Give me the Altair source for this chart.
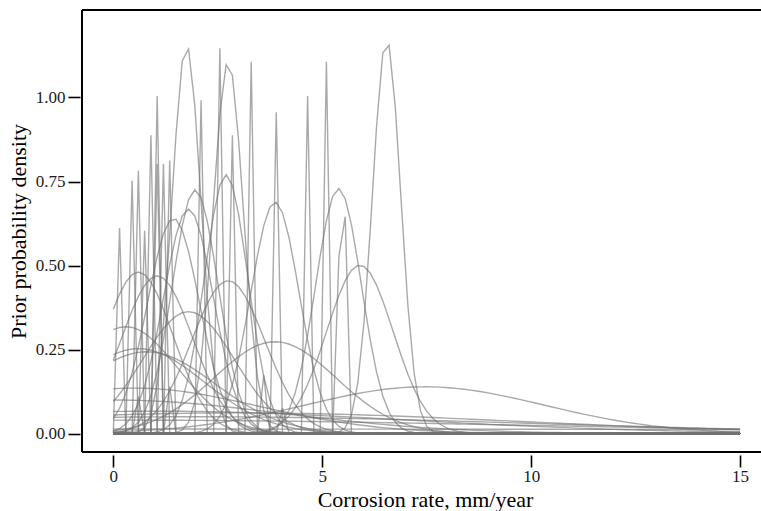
import numpy as np
import pandas as pd
import altair as alt

# Evaluation grid of the prior densities (corrosion rate, mm/year)
x_grid = np.round(np.linspace(0, 15, 101), 4)

# Normal prior parameters (mean, sd), mm/year
curve_means = [
    1.75, 2.75, 6.54, 2.70, 1.96, 1.80, 1.44, 3.87, 5.39, 5.90,
    0.60, 1.05, 1.80, 2.75, 3.87, 0.30, 0.60, 0.80, 7.45,
    0.50, 0.00, 3.00, 2.00, 1.00, 0.00, 0.00,
    0.2028, 0.5012, 0.6509, 0.8029, 0.9499, 1.0989, 0.9993, 1.2507, 1.4006,
    2.1490, 2.5978, 2.8999, 3.3481, 3.9493, 4.6989, 5.1481, 5.4762,
    3.6616, 4.1168, 0.5355, 1.2870,
]
curve_sds = [
    0.345, 0.36, 0.34, 0.518, 0.55, 0.597, 0.623, 0.579, 0.547, 0.796,
    0.83, 0.85, 1.10, 0.877, 1.46, 1.255, 1.58, 1.64, 2.87,
    2.95, 4.0, 6.5, 8.0, 6.0, 10.0, 30.0,
    0.02, 0.02, 0.02, 0.02, 0.02, 0.02, 0.02, 0.02, 0.02,
    0.02, 0.02, 0.02, 0.02, 0.02, 0.02, 0.02, 0.03,
    0.02, 0.02, 0.02, 0.02,
]

x_ticks = [0, 5, 10, 15]
y_ticks = [0.0, 0.25, 0.5, 0.75, 1.0]

rows = []
for i, (m, s) in enumerate(zip(curve_means, curve_sds)):
    dens = np.exp(-((x_grid - m) ** 2) / (2 * s * s)) / (s * np.sqrt(2 * np.pi))
    for xv, dv in zip(x_grid, dens):
        rows.append({"curve": i, "rate": float(xv), "density": float(dv)})
df = pd.DataFrame(rows)

W, H = 679, 442
FONT = "Liberation Serif"

lines = alt.Chart(df).mark_line(
    color="#707070", opacity=0.6, strokeWidth=1.4, clip=True
).encode(
    x=alt.X(
        "rate:Q",
        scale=alt.Scale(domain=[-0.749, 15.5], nice=False, zero=False),
        axis=alt.Axis(
            values=x_ticks, format="d", domain=False, grid=False, offset=3,
            tickSize=12, tickWidth=1.6, tickColor="black",
            labelFont=FONT, labelFontSize=17, labelColor="#1a1a1a", labelPadding=1,
            title="Corrosion rate, mm/year", titleFont=FONT, titleFontSize=22,
            titleFontWeight="normal", titleColor="black",
            titleX=343, titleY=51, titleAlign="center", titleBaseline="alphabetic",
        ),
    ),
    y=alt.Y(
        "density:Q",
        scale=alt.Scale(domain=[-0.055, 1.2604], nice=False, zero=False),
        axis=alt.Axis(
            values=y_ticks, format=".2f", domain=False, grid=False, offset=2,
            tickSize=12, tickWidth=1.6, tickColor="black",
            labelFont=FONT, labelFontSize=17, labelColor="#1a1a1a", labelPadding=3,
            title="Prior probability density", titleFont=FONT, titleFontSize=22,
            titleFontWeight="normal", titleColor="black",
            titleX=-55, titleY=221, titleAlign="center", titleBaseline="alphabetic",
        ),
    ),
    detail="curve:N",
)

one = alt.Data(values=[{"k": 1}])
left_rule = alt.Chart(one).mark_rule(color="black", strokeWidth=2).encode(
    x=alt.value(0), y=alt.value(0), y2=alt.value(H)
)
top_rule = alt.Chart(one).mark_rule(color="black", strokeWidth=2).encode(
    x=alt.value(0), x2=alt.value(W), y=alt.value(0)
)
bottom_rule = alt.Chart(one).mark_rule(color="black", strokeWidth=2).encode(
    x=alt.value(0), x2=alt.value(W), y=alt.value(H)
)

chart = alt.layer(lines, left_rule, top_rule, bottom_rule).properties(
    width=W, height=H,
    autosize=alt.AutoSizeParams(type="none"),
    padding={"left": 82, "top": 10, "right": 0, "bottom": 59},
    background="white",
).configure_view(stroke=None)

chart.save("out.html", embed_options={"renderer": "svg", "actions": False})
